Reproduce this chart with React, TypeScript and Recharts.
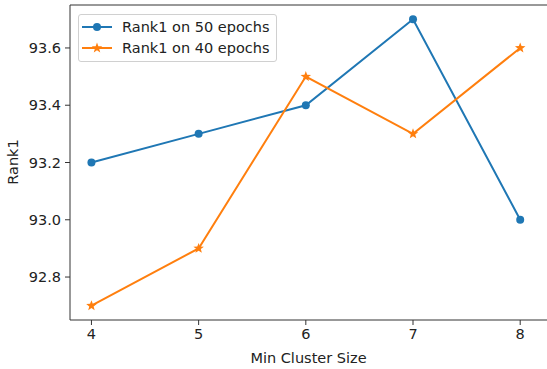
import React from "react";
import {
  LineChart,
  Line,
  XAxis,
  YAxis,
  ReferenceLine,
} from "recharts";

// 최소 클러스터 크기
const clusterSizes = [4, 5, 6, 7, 8];
// Rank1 값
const rank1Epoch50 = [93.2, 93.3, 93.4, 93.7, 93.0];
const rank1Epoch40 = [92.7, 92.9, 93.5, 93.3, 93.6];

const xTicks = [4, 5, 6, 7, 8];
const yTicks = [92.8, 93.0, 93.2, 93.4, 93.6];

const seriesNames = ["Rank1 on 50 epochs", "Rank1 on 40 epochs"];
const COLORS = ["#1f77b4", "#ff7f0e"];

const data = clusterSizes.map((size, i) => ({
  size,
  e50: rank1Epoch50[i],
  e40: rank1Epoch40[i],
}));

const FONT = "'DejaVu Sans', sans-serif";
const FS = 14.5;
const AXIS = "#333";

const starPath = (cx: number, cy: number, ro: number, ri: number) => {
  let d = "";
  for (let k = 0; k < 10; k++) {
    const r = k % 2 === 0 ? ro : ri;
    const a = -Math.PI / 2 + (k * Math.PI) / 5;
    d += (k === 0 ? "M" : "L") + (cx + r * Math.cos(a)).toFixed(2) + "," + (cy + r * Math.sin(a)).toFixed(2);
  }
  return d + "Z";
};

const StarDot = (props: any) => {
  const { cx, cy, index } = props;
  if (cx == null || cy == null) return null;
  return <path key={`star-${index}`} d={starPath(cx, cy, 5.5, 2.3)} fill={COLORS[1]} />;
};

// y축 라벨 (세로)
const YLabel = () => (
  <text
    x={13}
    y={162}
    transform="rotate(-90, 13, 162)"
    textAnchor="middle"
    dominantBaseline="central"
    fill="#222"
    fontSize={FS}
    fontFamily={FONT}
  >
    Rank1
  </text>
);

const LegendBox = () => (
  <div
    style={{
      position: "absolute",
      left: 78,
      top: 14,
      width: 197,
      height: 46,
      border: "1px solid #d0d0d0",
      borderRadius: 3,
      background: "rgba(255,255,255,0.8)",
      fontFamily: FONT,
      fontSize: FS,
      color: "#222",
    }}
  >
    {seriesNames.map((name, i) => (
      <div
        key={name}
        style={{ position: "absolute", left: 2, top: 2 + i * 21, height: 20, display: "flex", alignItems: "center" }}
      >
        <svg width={32} height={20}>
          <line x1={1} y1={10} x2={31} y2={10} stroke={COLORS[i]} strokeWidth={2} />
          {i === 0 ? (
            <circle cx={16} cy={10} r={4} fill={COLORS[0]} />
          ) : (
            <path d={starPath(16, 10, 5.5, 2.3)} fill={COLORS[1]} />
          )}
        </svg>
        <span style={{ marginLeft: 9, whiteSpace: "nowrap" }}>{name}</span>
      </div>
    ))}
  </div>
);

export default function App() {
  return (
    <div style={{ position: "absolute", left: 0, top: 0, width: 547, height: 369, background: "#fff" }}>
      <LineChart width={547} height={369} data={data} margin={{ top: 5, right: 0, bottom: 0, left: 0 }}>
        <XAxis
          dataKey="size"
          type="number"
          domain={[3.8, 8.25]}
          ticks={xTicks}
          allowDataOverflow
          height={49}
          tickSize={5}
          tickMargin={4}
          stroke={AXIS}
          tick={{ fill: "#222", fontSize: FS, fontFamily: FONT }}
          label={{ value: "Min Cluster Size", position: "insideBottom", offset: 6, fill: "#222", fontSize: FS, fontFamily: FONT }}
        />
        <YAxis
          type="number"
          domain={[92.65, 93.75]}
          ticks={yTicks}
          allowDataOverflow
          width={70}
          tickSize={5}
          tickMargin={4}
          stroke={AXIS}
          tickFormatter={(v: number) => v.toFixed(1)}
          tick={{ fill: "#222", fontSize: FS, fontFamily: FONT }}
          label={<YLabel />}
        />
        <ReferenceLine y={93.75} stroke={AXIS} strokeWidth={1} ifOverflow="extendDomain" />
        <Line
          dataKey="e50"
          stroke={COLORS[0]}
          strokeWidth={2}
          dot={{ r: 4, fill: COLORS[0], stroke: "none" }}
          activeDot={false}
          isAnimationActive={false}
        />
        <Line
          dataKey="e40"
          stroke={COLORS[1]}
          strokeWidth={2}
          dot={<StarDot />}
          activeDot={false}
          isAnimationActive={false}
        />
      </LineChart>
      <LegendBox />
    </div>
  );
}
